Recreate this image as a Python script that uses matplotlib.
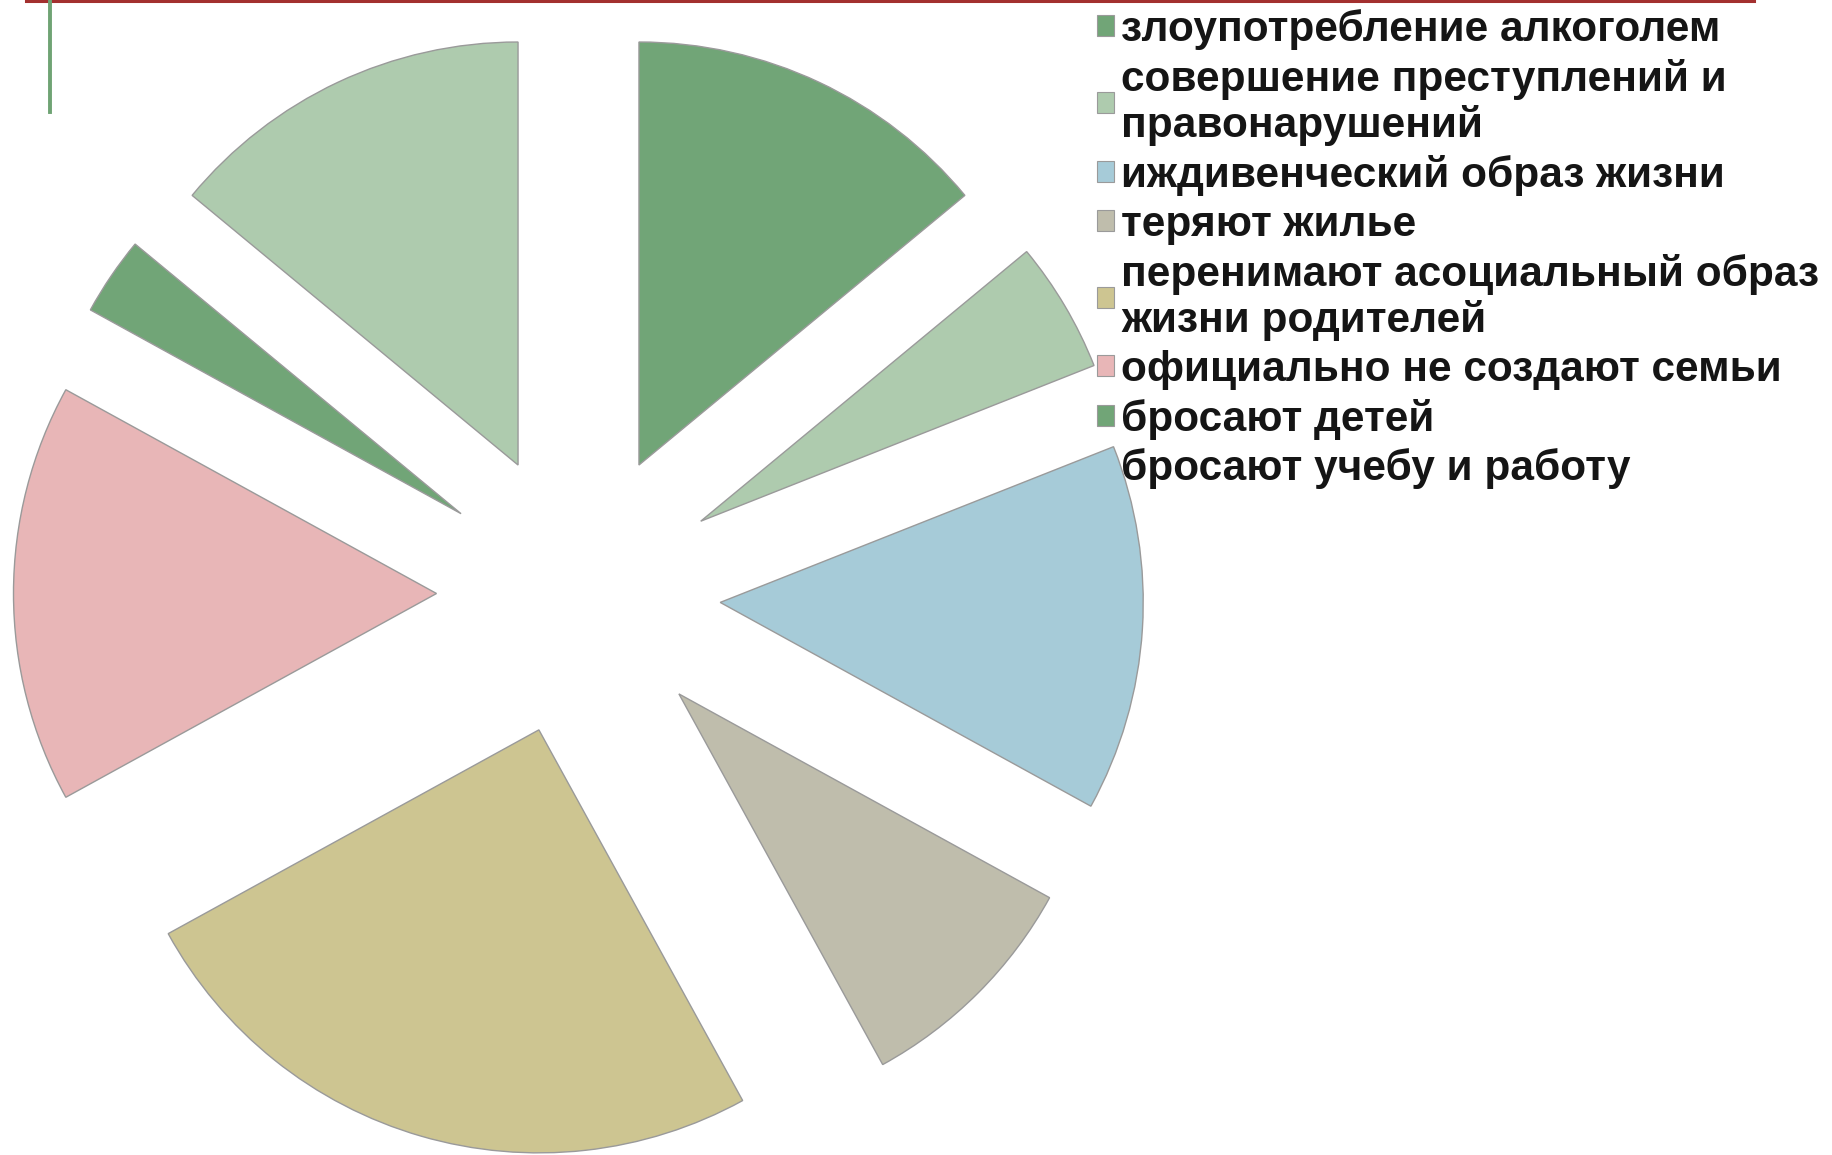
import matplotlib
matplotlib.use("Agg")
import matplotlib.pyplot as plt
from matplotlib.lines import Line2D

categories = [
    "злоупотребление алкоголем",
    "совершение преступлений и\nправонарушений",
    "иждивенческий образ жизни",
    "теряют жилье",
    "перенимают асоциальный образ\nжизни родителей",
    "официально не создают семьи",
    "бросают детей",
    "бросают учебу и работу",
]
values = [14, 5, 14, 9, 25, 16, 3, 14]
colors = ["#71A577", "#AECBAE", "#A6CBD8", "#BFBDAC",
          "#CDC591", "#E8B6B7", "#71A577", "#AECBAE"]

W, H = 1833, 1155
fig = plt.figure(figsize=(W / 100, H / 100), dpi=100)
ax = fig.add_axes([0, 0, 1, 1])

R_PX = 423.0
cx, cy = 578.5, 593.5
explode = [142.0 / R_PX] * len(values)

wedges, _ = ax.pie(values, colors=colors, startangle=90, counterclock=False,
                   explode=explode, radius=1.0,
                   wedgeprops=dict(edgecolor="#9A9A9A", linewidth=1.0))
for w in wedges:
    w.set_zorder(3)

ax.set_aspect("auto")
ax.set_xlim(-cx / R_PX, (W - cx) / R_PX)
ax.set_ylim(-(H - cy) / R_PX, cy / R_PX)
ax.axis("off")

fs = 30.5
leg = ax.legend(wedges, categories, loc="upper left",
                bbox_to_anchor=(1097 / W, 1 - 8.8 / H), bbox_transform=fig.transFigure,
                frameon=False,
                prop=dict(family="Liberation Sans", weight="bold", size=fs),
                handlelength=0.4, handleheight=0.4, handletextpad=0.17,
                labelspacing=0.21, borderpad=0.0, borderaxespad=0.0)
leg.set_zorder(1)
for t in leg.get_texts():
    t.set_color("#151515")
    t.set_linespacing(1.163)
for h in leg.legend_handles:
    h.set_linewidth(0.8)

# slide decorations
fig.add_artist(Line2D([26 / W, 1754 / W], [1 - 1 / H, 1 - 1 / H],
                      transform=fig.transFigure, color="#A3302F", linewidth=2.2))
fig.add_artist(Line2D([50 / W, 50 / W], [1, 1 - 112 / H],
                      transform=fig.transFigure, color="#6FA374", linewidth=2.8))

fig.savefig("out.png", dpi=100, facecolor="white")
